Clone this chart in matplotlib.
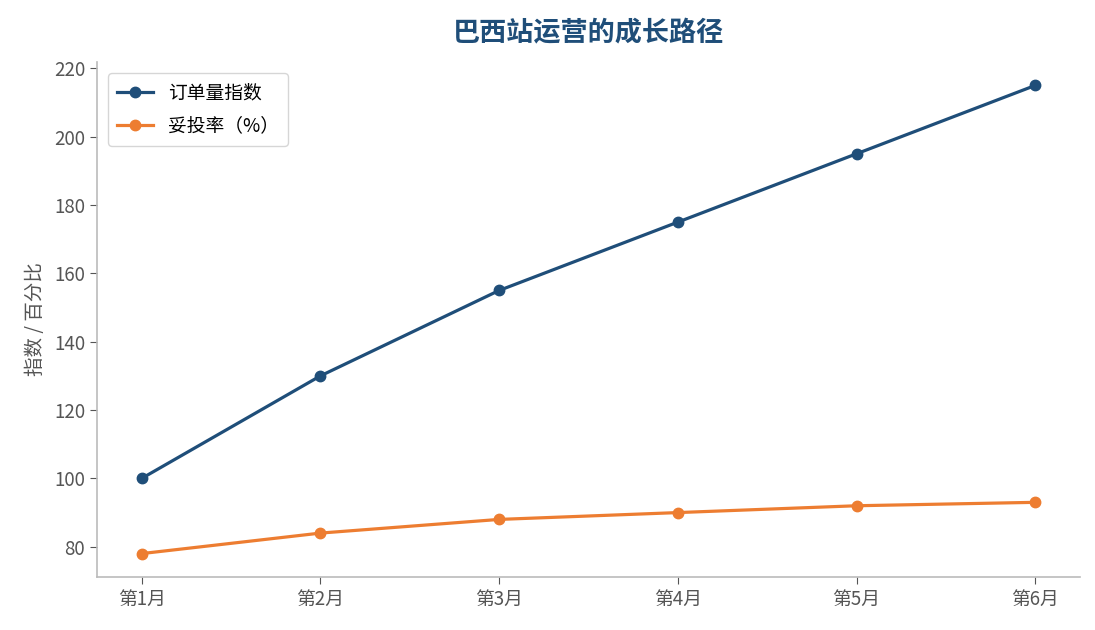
import matplotlib
matplotlib.use("Agg")
import matplotlib.pyplot as plt

plt.rcParams['font.family'] = ['Noto Sans CJK SC', 'DejaVu Sans']

months = ["第1月", "第2月", "第3月", "第4月", "第5月", "第6月"]
order_index = [100, 130, 155, 175, 195, 215]
delivery_rate = [78, 84, 88, 90, 92, 93]

fig = plt.figure(figsize=(10.95, 6.3), dpi=100)
ax = fig.add_axes([97/1095, 1 - 577/630, (1080-97)/1095, (577-62)/630])

ax.plot(months, order_index, color="#1f4e79", lw=2.3, marker="o", ms=7.5, label="订单量指数")
ax.plot(months, delivery_rate, color="#ed7d31", lw=2.3, marker="o", ms=7.5, label="妥投率（%）")

ax.set_title("巴西站运营的成长路径", fontsize=19.5, fontweight="bold", color="#1f4e79", pad=15)
ax.set_ylabel("指数 / 百分比", fontsize=14, color="#555555", labelpad=6)
ax.set_yticks([80, 100, 120, 140, 160, 180, 200, 220])
ax.tick_params(colors="#555555", labelsize=13.5, length=5)
for s in ["top", "right"]:
    ax.spines[s].set_visible(False)
for s in ["left", "bottom"]:
    ax.spines[s].set_color("#bbbbbb")
    ax.spines[s].set_linewidth(1.2)
leg = ax.legend(loc="upper left", fontsize=13.5, frameon=True, labelspacing=0.65,
                borderpad=0.5, handlelength=1.9, handletextpad=0.8,
                borderaxespad=0.0, bbox_to_anchor=(0.011, 0.979))
leg.get_frame().set_edgecolor("#cccccc")

fig.savefig("out.png", dpi=100)
